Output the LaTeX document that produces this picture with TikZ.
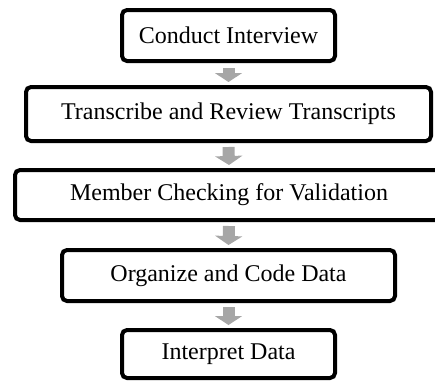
\documentclass[tikz,border=0pt]{standalone}
\usepackage{fontspec}
\setmainfont{Liberation Serif}
\usetikzlibrary{arrows.meta}
\definecolor{arrowgray}{HTML}{A6A6A6}

\begin{document}
\begin{tikzpicture}[x=1pt,y=-1pt,
    stage/.style={draw, line width=4pt, rounded corners=5pt, inner sep=0pt,
      minimum height=51pt, font=\fontsize{24}{28}\selectfont},
    flowarrow/.style={draw=arrowgray, line width=12pt,
      -{Triangle[width=27pt,length=9pt]}}]
  \useasboundingbox (0,0) rectangle (435,381);
  % the five stages, top to bottom
  \node[stage, minimum width=213pt] (interview) at (228.5,35.5) {Conduct Interview};
  \node[stage, minimum width=405pt, minimum height=54pt] (transcribe) at (228.5,114)
    {Transcribe and Review Transcripts};
  \node[stage, minimum width=428pt, minimum height=50pt] (checking) at (229,195)
    {Member Checking for Validation};
  \node[stage, minimum width=333pt] (organize) at (228.5,275.5) {Organize and Code Data};
  \node[stage, minimum width=213pt, minimum height=48pt] (interpret) at (228.5,354)
    {Interpret Data};
  % gray arrows between them
  \draw[flowarrow] ([yshift=-5pt]interview.south) -- ([yshift=3pt]transcribe.north);
  \draw[flowarrow] ([yshift=-4pt]transcribe.south) -- ([yshift=3pt]checking.north);
  \draw[flowarrow] ([yshift=-4pt]checking.south) -- ([yshift=3pt]organize.north);
  \draw[flowarrow] ([yshift=-4pt]organize.south) -- ([yshift=3pt]interpret.north);
\end{tikzpicture}
\end{document}
